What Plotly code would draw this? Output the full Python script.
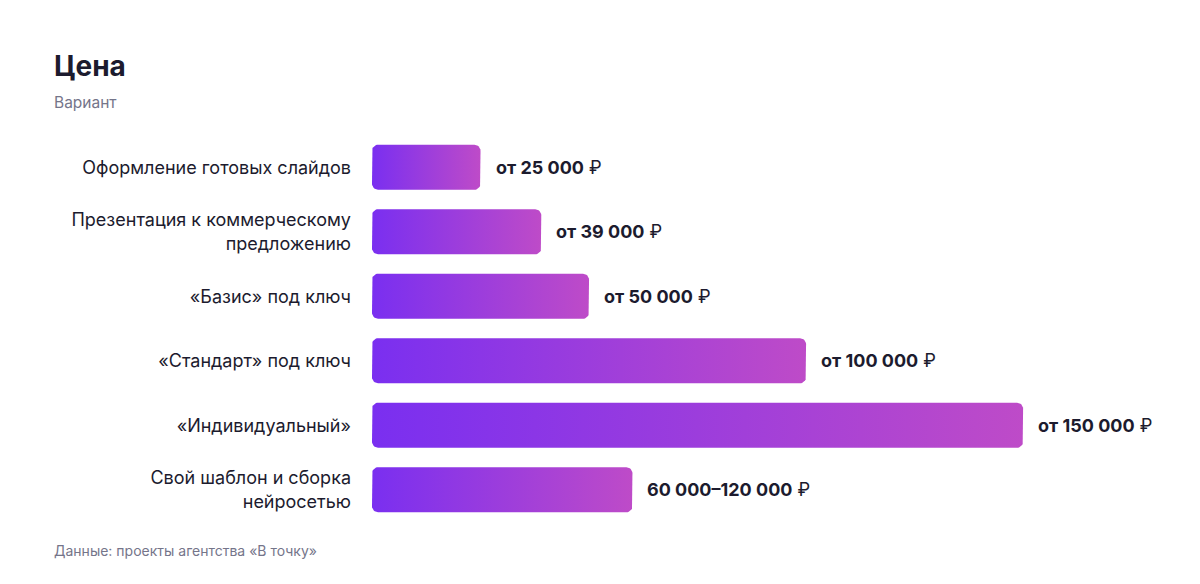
import math
import plotly.graph_objects as go

# ---- data ----
categories = [
    "Оформление готовых слайдов",
    "Презентация к коммерческому<br>предложению",
    "«Базис» под ключ",
    "«Стандарт» под ключ",
    "«Индивидуальный»",
    "Свой шаблон и сборка<br>нейросетью",
]
values = [25000, 39000, 50000, 100000, 150000, 60000]
value_labels = [
    "от 25 000",
    "от 39 000",
    "от 50 000",
    "от 100 000",
    "от 150 000",
    "60 000–120 000",
]
currency = "₽"
title_text = "Цена"
subtitle_text = "Вариант"
source_text = "Данные: проекты агентства «В точку»"

# ---- layout geometry (page body adds an 8px offset) ----
OFF = 8
W, H = 1200, 584
ML, MR, MT, MB = 372 - OFF, 28 + OFF, 135 - OFF, 62 + OFF
plot_w = W - ML - MR
plot_h = H - MT - MB
x_max = 184300
n = len(categories)
y_lo, y_hi = -0.5, n - 0.5
px_x = x_max / plot_w          # data units per pixel (x)
px_y = (y_hi - y_lo) / plot_h  # data units per pixel (y)
bar_h_px = 45
radius_px = 6

grad_left = "#7A2FF0"
grad_right = "#BE4BC8"
text_dark = "#1C1B2E"
text_gray = "#75758A"
FONT = "Inter, Liberation Sans, sans-serif"


def rounded_rect(x0, x1, yc):
    rx = radius_px * px_x
    ry = radius_px * px_y
    hy = bar_h_px / 2 * px_y
    ya, yb = yc - hy, yc + hy
    pts = []
    corners = [
        (x1 - rx, ya + ry, -90, 0),
        (x1 - rx, yb - ry, 0, 90),
        (x0 + rx, yb - ry, 90, 180),
        (x0 + rx, ya + ry, 180, 270),
    ]
    for cx, cy, a0, a1 in corners:
        for k in range(9):
            a = math.radians(a0 + (a1 - a0) * k / 8)
            pts.append((cx + rx * math.cos(a), cy + ry * math.sin(a)))
    pts.append(pts[0])
    return [p[0] for p in pts], [p[1] for p in pts]


fig = go.Figure()
for i, v in enumerate(values):
    xs, ys = rounded_rect(0, v, i)
    fig.add_trace(go.Scatter(
        x=xs, y=ys, mode="lines", fill="toself",
        line=dict(width=0, color=grad_left),
        fillgradient=dict(type="horizontal",
                          colorscale=[[0, grad_left], [1, grad_right]]),
        hoverinfo="skip", showlegend=False,
    ))

annotations = []
for i, (v, lab) in enumerate(zip(values, value_labels)):
    annotations.append(dict(
        x=v, y=i, xref="x", yref="y", xanchor="left", yanchor="middle",
        xshift=13, showarrow=False,
        text="<b>%s</b> %s" % (lab, currency),
        font=dict(family=FONT, size=18, color=text_dark),
    ))

lx = (52 - OFF - ML) / plot_w
annotations += [
    dict(text="<b>%s</b>" % title_text, xref="paper", yref="paper",
         x=lx, y=1 + (MT - (66 - OFF)) / plot_h,
         xanchor="left", yanchor="middle", showarrow=False,
         font=dict(family=FONT, size=28, color=text_dark)),
    dict(text=subtitle_text, xref="paper", yref="paper",
         x=lx, y=1 + (MT - (103 - OFF)) / plot_h,
         xanchor="left", yanchor="middle", showarrow=False,
         font=dict(family=FONT, size=15.5, color=text_gray)),
    dict(text=source_text, xref="paper", yref="paper",
         x=lx, y=-((550 - OFF) - (H - MB)) / plot_h,
         xanchor="left", yanchor="middle", showarrow=False,
         font=dict(family=FONT, size=14, color=text_gray)),
]

fig.update_layout(
    width=W, height=H,
    margin=dict(l=ML, r=MR, t=MT, b=MB),
    paper_bgcolor="white", plot_bgcolor="white",
    font=dict(family=FONT, color=text_dark),
    xaxis=dict(range=[0, x_max], visible=False, fixedrange=True),
    yaxis=dict(range=[y_hi, y_lo], tickvals=list(range(n)), ticktext=categories,
               showgrid=False, zeroline=False, showline=False, ticks="",
               ticklabelstandoff=20, fixedrange=True,
               tickfont=dict(family=FONT, size=18, color=text_dark)),
    annotations=annotations,
)

fig.write_html("out.html")
